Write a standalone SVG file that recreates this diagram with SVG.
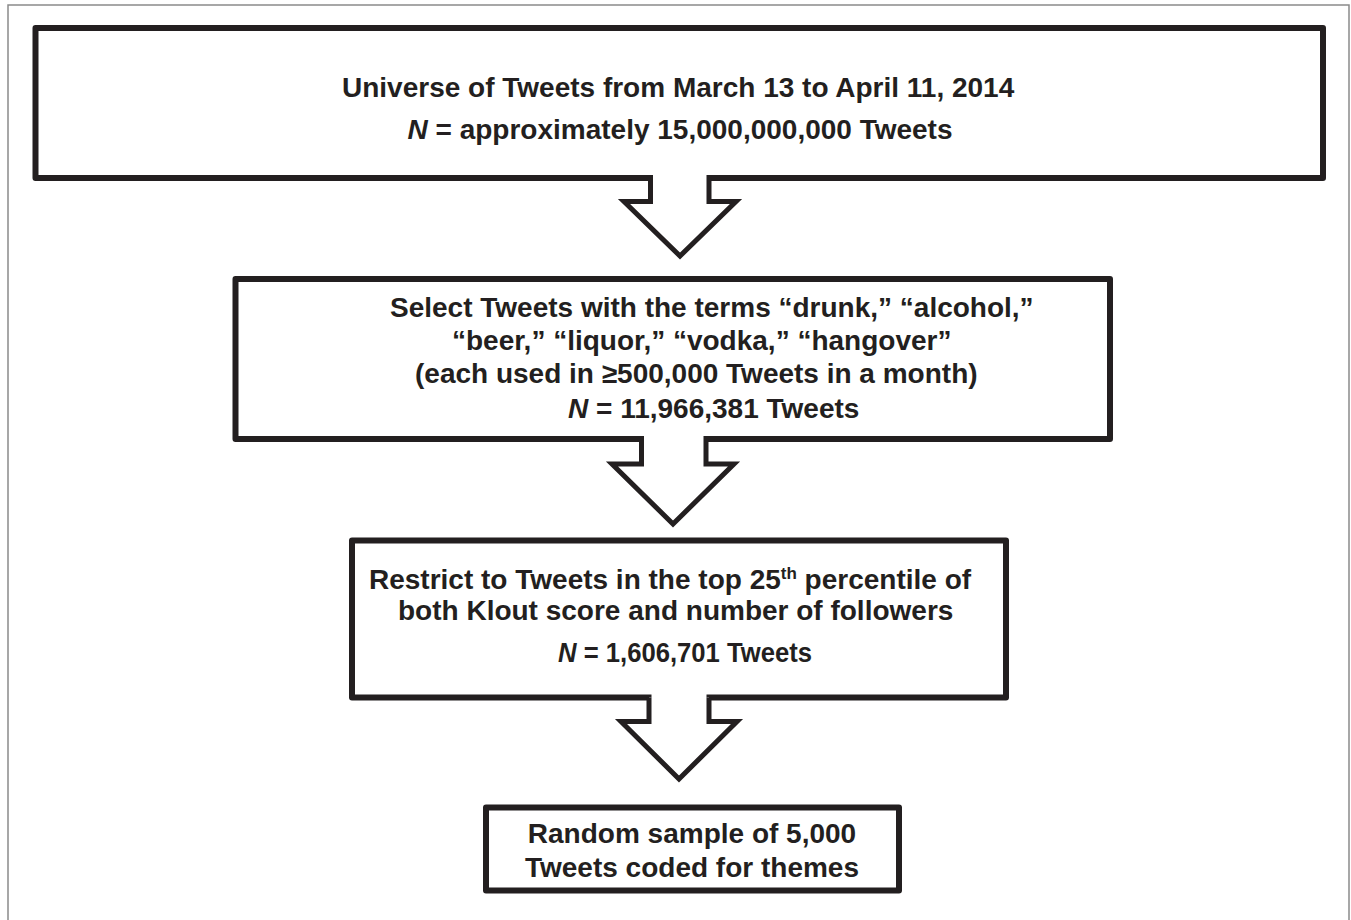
<svg xmlns="http://www.w3.org/2000/svg" width="1351" height="920" viewBox="0 0 1351 920">
<style>
.frame{fill:none;stroke:#8a8a8a;stroke-width:1.5}
.box{fill:#fff;stroke:#231f20;stroke-width:6;stroke-linejoin:round}
.arrow{fill:#fff;stroke:#231f20;stroke-width:5;stroke-linejoin:miter;stroke-miterlimit:10}
.gap{fill:#fff;stroke:none}
.t{font-family:"Liberation Sans",Arial,sans-serif;font-weight:bold;font-size:28px;fill:#231f20}
.i{font-style:italic}
</style>
<rect width="1351" height="920" fill="#fff"/>
<rect class="frame" x="8" y="5" width="1341" height="930"/>
<g id="node1">
<rect class="box" x="35.5" y="28" width="1287.5" height="150"/>
<text class="t" x="342" y="97">Universe of Tweets from March 13 to April 11, 2014</text>
<text class="t" x="680" y="139" text-anchor="middle"><tspan class="i">N</tspan> = approximately 15,000,000,000 Tweets</text>
</g>
<g id="node2">
<rect class="box" x="235.5" y="279" width="874.5" height="160"/>
<text class="t" x="390" y="317">Select Tweets with the terms “drunk,” “alcohol,”</text>
<text class="t" x="452" y="350">“beer,” “liquor,” “vodka,” “hangover”</text>
<text class="t" x="415" y="383">(each used in ≥500,000 Tweets in a month)</text>
<text class="t" x="568" y="418"><tspan class="i">N</tspan> = 11,966,381 Tweets</text>
</g>
<g id="node3">
<rect class="box" x="352" y="540.5" width="654" height="157"/>
<text class="t" x="369" y="589">Restrict to Tweets in the top 25<tspan font-size="17" dy="-10">th</tspan><tspan dy="10"> percentile of</tspan></text>
<text class="t" x="398" y="620">both Klout score and number of followers</text>
<text class="t" x="558" y="662" textLength="254" lengthAdjust="spacingAndGlyphs"><tspan class="i">N</tspan> = 1,606,701 Tweets</text>
</g>
<g id="node4">
<rect class="box" x="486" y="807.5" width="413" height="83"/>
<text class="t" x="692" y="843" text-anchor="middle">Random sample of 5,000</text>
<text class="t" x="692" y="877" text-anchor="middle">Tweets coded for themes</text>
</g>
<g id="connectors">
<rect class="gap" x="653" y="174" width="53.5" height="6"/>
<path class="arrow" d="M650.5,178 V201.5 H624 L680,256 L736,201.5 H709 V178"/>
<rect class="gap" x="644" y="435" width="59.5" height="6"/>
<path class="arrow" d="M641.5,439 V464 H612 L673,524 L734,464 H706 V439"/>
<rect class="gap" x="651.5" y="693.5" width="55" height="6"/>
<path class="arrow" d="M649,697.5 V721.5 H621 L679,779 L737,721.5 H709 V697.5"/>
</g>
</svg>
